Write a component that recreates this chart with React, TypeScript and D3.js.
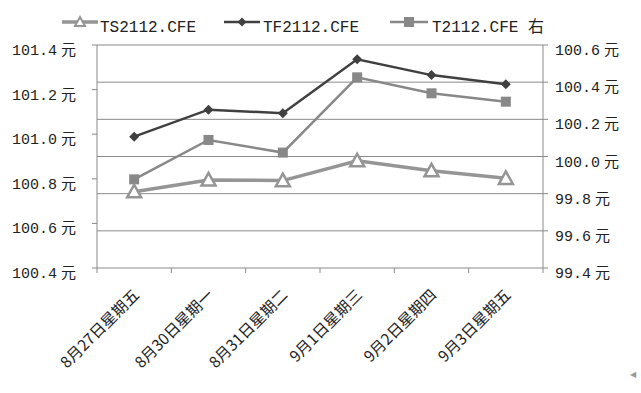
import React from "react";
import * as d3 from "d3";

const categories = ["8月27日星期五", "8月30日星期一", "8月31日星期二", "9月1日星期三", "9月2日星期四", "9月3日星期五"];
const tsValues = [100.742, 100.795, 100.792, 100.881, 100.836, 100.802];
const tfValues = [100.989, 101.11, 101.094, 101.336, 101.265, 101.224];
const tValues = [99.877, 100.089, 100.021, 100.426, 100.34, 100.295];
const leftTicks = [100.4, 100.6, 100.8, 101.0, 101.2, 101.4];
const rightTicks = [99.4, 99.6, 99.8, 100.0, 100.2, 100.4, 100.6];

const W = 641;
const H = 393;
const plot = { left: 97, right: 543, top: 45, bottom: 268 };
const font = "'Liberation Mono', 'DejaVu Sans Mono', 'Noto Sans CJK SC', monospace";
const cjk = "'Noto Sans CJK SC', sans-serif";

const tsColor = "#959595";
const tfColor = "#404040";
const tColor = "#888888";
const gridColor = "#8a8a8a";

const triangle = (x: number, y: number, s = 7) =>
  `M${x},${y - s} L${x + s},${y + s * 0.8} L${x - s},${y + s * 0.8} Z`;
const diamond = (x: number, y: number, s = 5) =>
  `M${x},${y - s} L${x + s},${y} L${x},${y + s} L${x - s},${y} Z`;

export default function App() {
  const x = d3.scaleBand<string>().domain(categories).range([plot.left, plot.right]);
  const yLeft = d3.scaleLinear().domain([100.4, 101.4]).range([plot.bottom, plot.top]);
  const yRight = d3.scaleLinear().domain([99.4, 100.6]).range([plot.bottom, plot.top]);
  const cx = (c: string) => (x(c) as number) + x.bandwidth() / 2;

  const lineL = d3.line<number>().x((_, i) => cx(categories[i])).y((v) => yLeft(v));
  const lineR = d3.line<number>().x((_, i) => cx(categories[i])).y((v) => yRight(v));

  const boundaries = categories.map((c) => x(c) as number).concat([plot.right]);

  return (
    <svg width={W} height={H} style={{ position: "absolute", left: 0, top: 0, background: "#fff" }}>
      {/* gridlines follow the right axis */}
      {rightTicks.map((t) => (
        <line key={"g" + t} x1={plot.left} x2={plot.right} y1={yRight(t)} y2={yRight(t)} stroke={gridColor} strokeWidth={1} />
      ))}
      {/* axes */}
      <line x1={plot.left} x2={plot.left} y1={plot.top} y2={plot.bottom} stroke={gridColor} />
      <line x1={plot.right} x2={plot.right} y1={plot.top} y2={plot.bottom} stroke={gridColor} />
      {leftTicks.map((t) => (
        <g key={"l" + t}>
          <line x1={plot.left - 5} x2={plot.left} y1={yLeft(t)} y2={yLeft(t)} stroke={gridColor} />
          <text x={12} y={yLeft(t) + 10} fontFamily={font} fontSize={15} fill="#222">
            {t.toFixed(1)}
            <tspan dx={4}>元</tspan>
          </text>
        </g>
      ))}
      {rightTicks.map((t) => (
        <g key={"r" + t}>
          <line x1={plot.right} x2={plot.right + 5} y1={yRight(t)} y2={yRight(t)} stroke={gridColor} />
          <text x={555} y={yRight(t) + 10} fontFamily={font} fontSize={15} fill="#222">
            {t.toFixed(1)}
            <tspan dx={4}>元</tspan>
          </text>
        </g>
      ))}
      {boundaries.map((b, i) => (
        <line key={"b" + i} x1={b} x2={b} y1={plot.bottom} y2={plot.bottom + 5} stroke={gridColor} />
      ))}
      {categories.map((c) => (
        <text
          key={"c" + c}
          transform={`translate(${cx(c) + 6},${plot.bottom + 28}) rotate(-45)`}
          textAnchor="end"
          fontFamily={cjk}
          fontSize={15.5}
          fill="#222"
        >
          {c}
        </text>
      ))}

      {/* series */}
      <path d={lineR(tValues) as string} fill="none" stroke={tColor} strokeWidth={2.5} />
      {tValues.map((v, i) => (
        <rect key={"ts" + i} x={cx(categories[i]) - 5} y={yRight(v) - 5} width={10} height={10} fill={tColor} />
      ))}
      <path d={lineL(tfValues) as string} fill="none" stroke={tfColor} strokeWidth={2.5} />
      {tfValues.map((v, i) => (
        <path key={"tf" + i} d={diamond(cx(categories[i]), yLeft(v))} fill={tfColor} />
      ))}
      <path d={lineL(tsValues) as string} fill="none" stroke={tsColor} strokeWidth={3.5} />
      {tsValues.map((v, i) => (
        <path key={"tt" + i} d={triangle(cx(categories[i]), yLeft(v))} fill="#fff" stroke={tsColor} strokeWidth={2.5} />
      ))}

      {/* legend */}
      <g fontFamily={font} fontSize={16} fill="#222">
        <line x1={62} x2={98} y1={22} y2={22} stroke={tsColor} strokeWidth={3.5} />
        <path d={triangle(80, 22, 5)} fill="#fff" stroke={tsColor} strokeWidth={2} />
        <text x={100} y={32}>TS2112.CFE</text>
        <line x1={224} x2={260} y1={22} y2={22} stroke={tfColor} strokeWidth={2.5} />
        <path d={diamond(242, 22, 4.5)} fill={tfColor} />
        <text x={263} y={32}>TF2112.CFE</text>
        <line x1={390} x2={428} y1={22} y2={22} stroke={tColor} strokeWidth={2.5} />
        <rect x={404} y={17} width={10} height={10} fill={tColor} />
        <text x={432} y={32}>T2112.CFE 右</text>
      </g>
      <text x={630} y={377} fontSize={8} fill="#999">◀</text>
    </svg>
  );
}
